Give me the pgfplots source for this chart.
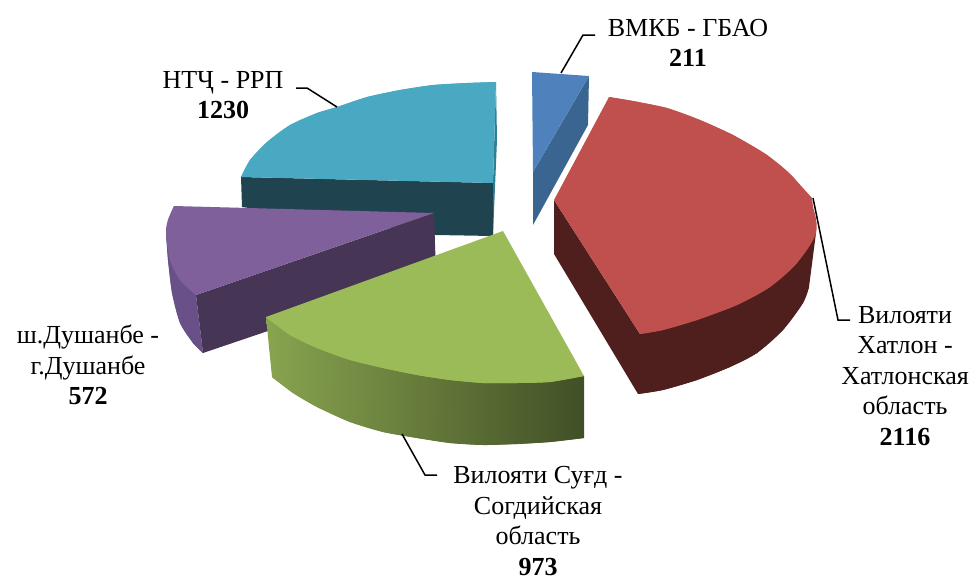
\documentclass[border=0pt]{standalone}
\usepackage{fontspec}
\setmainfont{Liberation Serif}
\usepackage{pgfplots}
\pgfplotsset{compat=1.18}
\definecolor{bluetop}{HTML}{4F81BD}
\definecolor{blueside}{HTML}{3A6591}
\definecolor{redtop}{HTML}{C0504D}
\definecolor{redside}{HTML}{4F1F1E}
\definecolor{greentop}{HTML}{9BBB59}
\definecolor{greenL}{HTML}{88A44F}
\definecolor{greenLb}{HTML}{87A24E}
\definecolor{greenR}{HTML}{414F26}
\definecolor{tealtop}{HTML}{4AA9C2}
\definecolor{tealside}{HTML}{1F4450}
\definecolor{tealsliver}{HTML}{2F7F94}
\definecolor{purpletop}{HTML}{7F609B}
\definecolor{purpleside}{HTML}{463555}
\definecolor{purpleouter}{HTML}{6A5088}
\tikzset{lab/.style={font=\fontsize{26}{30.5}\selectfont, align=center, inner sep=0pt}}
\begin{document}
\begin{tikzpicture}
\begin{axis}[
  scale only axis, width=979pt, height=576pt,
  xmin=0, xmax=979, ymin=0, ymax=576, y dir=reverse,
  hide axis, clip=false,
  every axis plot/.append style={draw=none, no markers}
]
\path[use as bounding box] (axis cs:0,0) rectangle (axis cs:979,576);
% teal slice (НТҶ - РРП, 1230)
\addplot[fill=tealsliver] coordinates {(496,82)(497,140)(493,235)(493,183)} --cycle;
\addplot[fill=tealside] coordinates {(241,177)(493,183)(493,236)(436,235)(242,207)} --cycle;
\addplot[fill=tealtop] coordinates {(496,82)(493,183)(241,177)(250,160)(267,142)(290,125)(317,113)(337,107)(367,97)(400,90)(433,85)(467,83)} --cycle;
\addplot[fill=tealtop, smooth] coordinates {(241,177)(250,160)(267,142)(290,125)(317,113)(337,107)(367,97)(400,90)(433,85)(467,83)(496,82)} --cycle;
% purple slice (ш.Душанбе, 572)
\addplot[fill=purpleouter] coordinates {(196,295)(203,353)(193,343)(180,323)(172,293)(168,260)(166,233)} --cycle;
\addplot[fill=purpleouter, smooth] coordinates {(203,353)(193,343)(180,323)(172,293)(168,260)(166,233)} --cycle;
\addplot[fill=purpleside] coordinates {(434,213)(436,274)(203,353)(196,295)} --cycle;
\addplot[fill=purpletop] coordinates {(174,206)(434,213)(196,295)(180,280)(170,260)(166,233)(168,220)} --cycle;
\addplot[fill=purpletop, smooth] coordinates {(196,295)(180,280)(170,260)(166,233)(168,220)(174,206)} --cycle;
% blue slice (ВМКБ - ГБАО, 211)
\addplot[fill=blueside] coordinates {(589,76)(588,125)(533,225)(533,172)} --cycle;
\addplot[fill=bluetop] coordinates {(532,72)(589,76)(533,172)} --cycle;
% red slice (Хатлон, 2116)
\addplot[fill=redside] coordinates {(554,200)(554,254)(638,394)(663,390)(697,380)(730,367)(757,353)(783,330)(803,303)(809,287)(816,233)(640,334)} --cycle;
\addplot[fill=redside, smooth] coordinates {(638,394)(663,390)(697,380)(730,367)(757,353)(783,330)(803,303)(809,287)} --cycle;
\addplot[fill=redtop] coordinates {(554,200)(609,97)(633,101)(667,108)(700,120)(733,135)(767,155)(793,177)(812,198)(816,233)(797,263)(770,287)(737,305)(697,320)(663,330)(640,334)} --cycle;
\addplot[fill=redtop, smooth] coordinates {(609,97)(633,101)(667,108)(700,120)(733,135)(767,155)(793,177)(812,205)(816,233)(797,263)(770,287)(737,305)(697,320)(663,330)(640,334)} --cycle;
% green slice (Суғд, 973)
\addplot[shade, left color=greenL, right color=greenR] coordinates {(266,317)(272,377)(293,393)(317,407)(350,422)(383,432)(417,438)(450,443)(483,445)(517,444)(550,442)(584,438)(584,376)} --cycle;
\addplot[shade, left color=greenLb, right color=greenR, smooth] coordinates {(272,377)(293,393)(317,407)(350,422)(383,432)(417,438)(450,443)(483,445)(517,444)(550,442)(584,438)} --cycle;
\addplot[fill=greentop] coordinates {(503,231)(584,376)(550,382)(517,383)(483,383)(450,380)(417,375)(383,368)(350,360)(317,348)(290,335)(266,317)} --cycle;
\addplot[fill=greentop, smooth] coordinates {(584,376)(550,382)(517,383)(483,383)(450,380)(417,375)(383,368)(350,360)(317,348)(290,335)(266,317)} --cycle;
% leader lines
\addplot[draw=black, line width=1.5pt] coordinates {(561,73)(583,35)(595,35)};
\addplot[draw=black, line width=1.5pt] coordinates {(813,198)(838,320)(850,320)};
\addplot[draw=black, line width=1.5pt] coordinates {(402,434)(425,475)(437,475)};
\addplot[draw=black, line width=1.5pt] coordinates {(337,107)(307,88)(296,88)};
% labels
\node[lab] at (axis cs:688,43) {ВМКБ - ГБАО\\\textbf{211}};
\node[lab] at (axis cs:223,95) {НТҶ - РРП\\\textbf{1230}};
\node[lab] at (axis cs:905,376) {Вилояти\\Хатлон -\\Хатлонская\\область\\\textbf{2116}};
\node[lab] at (axis cs:538,521) {Вилояти Суғд -\\Согдийская\\область\\\textbf{973}};
\node[lab] at (axis cs:88,365) {ш.Душанбе -\\г.Душанбе\\\textbf{572}};
\end{axis}
\end{tikzpicture}
\end{document}
